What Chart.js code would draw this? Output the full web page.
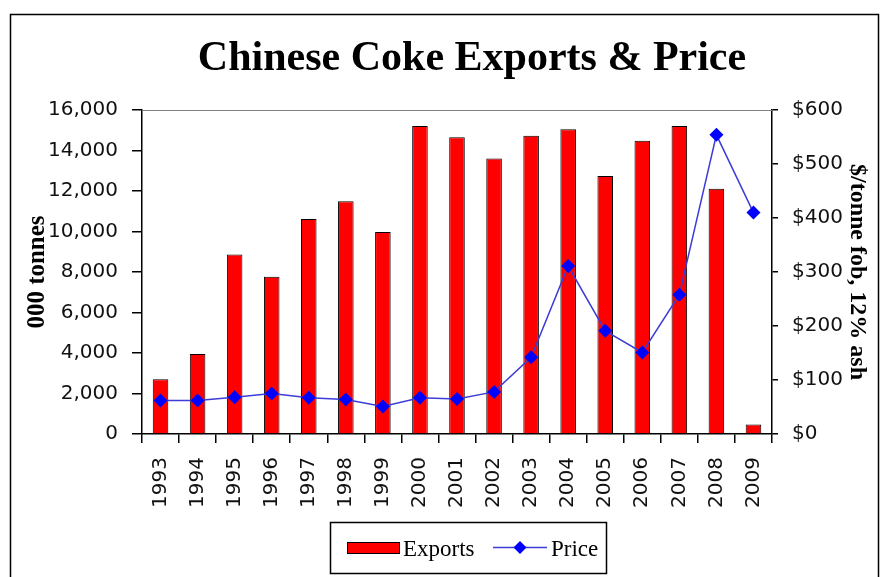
<!DOCTYPE html>
<html>
<head>
<meta charset="utf-8">
<script src="https://cdn.jsdelivr.net/npm/chart.js@4"></script>
<style>
  html, body { margin: 0; padding: 0; background: #fff; }
  #wrap { width: 882px; height: 577px; position: relative; }
</style>
</head>
<body>
<div id="wrap"><canvas id="myChart" width="882" height="577"></canvas></div>
<script>
// data
var years = ['1993', '1994', '1995', '1996', '1997', '1998', '1999', '2000', '2001',
    '2002', '2003', '2004', '2005', '2006', '2007', '2008', '2009'];
var exportsKt = [2700, 3950, 8870, 7770, 10620, 11490, 9975, 15210, 14650,
    13610, 14730, 15050, 12740, 14480, 15210, 12110, 470];
var priceUsd = [62, 62, 68, 75, 67, 64, 51, 67, 65,
    78, 142, 311, 191, 151, 258, 554, 410];

var titleText = 'Chinese Coke Exports & Price';
var tickFont = { family: 'DejaVu Sans', size: 20 };

// border, title, top line of plot and the boxed legend
var framePlugin = {
    id: 'frame',
    afterDraw: function (chart) {
        var ctx = chart.ctx;
        var area = chart.chartArea;
        ctx.save();
        ctx.strokeStyle = '#000';
        ctx.lineWidth = 1.5;
        ctx.strokeRect(10.5, 14.5, 868, 580);

        ctx.strokeStyle = '#808080';
        ctx.lineWidth = 1;
        ctx.beginPath();
        ctx.moveTo(area.left, area.top + 0.5);
        ctx.lineTo(area.right, area.top + 0.5);
        ctx.stroke();

        ctx.fillStyle = '#000';
        ctx.font = 'bold 42px "Liberation Serif"';
        ctx.textAlign = 'center';
        ctx.textBaseline = 'alphabetic';
        ctx.fillText(titleText, 472, 70);

        // legend
        var ds = chart.data.datasets;
        ctx.lineWidth = 1.5;
        ctx.strokeStyle = '#000';
        ctx.strokeRect(330.5, 522.5, 276, 51);

        ctx.fillStyle = ds[1].backgroundColor;
        ctx.fillRect(347, 542, 52, 11);
        ctx.lineWidth = 1;
        ctx.strokeRect(347.5, 542.5, 52, 11);

        ctx.strokeStyle = ds[0].borderColor;
        ctx.lineWidth = 1.5;
        ctx.beginPath();
        ctx.moveTo(493, 547.5);
        ctx.lineTo(547, 547.5);
        ctx.stroke();
        ctx.fillStyle = ds[0].pointBackgroundColor;
        ctx.beginPath();
        ctx.moveTo(520, 541);
        ctx.lineTo(526.5, 547.5);
        ctx.lineTo(520, 554);
        ctx.lineTo(513.5, 547.5);
        ctx.closePath();
        ctx.fill();

        ctx.fillStyle = '#000';
        ctx.font = '23px "Liberation Serif"';
        ctx.textAlign = 'left';
        ctx.fillText(ds[1].label, 403, 556);
        ctx.fillText(ds[0].label, 551, 556);
        ctx.restore();
    }
};

var ctx1 = document.getElementById('myChart').getContext('2d');
var myChart = new Chart(ctx1, {
    type: 'bar',
    data: {
        labels: years,
        datasets: [{
            type: 'line',
            label: 'Price',
            data: priceUsd,
            yAxisID: 'y1',
            borderColor: '#3c3cd8',
            borderWidth: 1.5,
            pointStyle: 'rectRot',
            pointRadius: 7,
            pointBackgroundColor: '#0000ff',
            pointBorderColor: '#0000ff',
            pointBorderWidth: 0,
            tension: 0,
            fill: false,
            order: 0
        }, {
            label: 'Exports',
            data: exportsKt,
            yAxisID: 'y',
            backgroundColor: '#ff0000',
            borderColor: '#000',
            borderWidth: 1,
            barPercentage: 0.42,
            categoryPercentage: 1,
            order: 1
        }]
    },
    options: {
        responsive: false,
        animation: false,
        devicePixelRatio: 1,
        layout: { padding: { top: 110, bottom: 63, left: 23, right: 10 } },
        plugins: {
            legend: { display: false },
            title: { display: false },
            tooltip: { enabled: false }
        },
        scales: {
            x: {
                grid: { display: true, drawOnChartArea: false, offset: true, tickLength: 9, color: '#000', lineWidth: 1.5 },
                border: { color: '#000', width: 1.5 },
                ticks: { color: '#111', font: tickFont, minRotation: 90, maxRotation: 90, padding: 14, autoSkip: false },
                afterFit: function (scale) { scale.height = 80; }
            },
            y: {
                position: 'left',
                min: 0,
                max: 16000,
                grid: { display: true, drawOnChartArea: false, tickLength: 10, color: '#000', lineWidth: 1.5 },
                border: { color: '#000', width: 1.5 },
                ticks: {
                    stepSize: 2000,
                    color: '#111',
                    font: tickFont,
                    padding: 14,
                    callback: function (v) { return v.toLocaleString('en-US'); }
                },
                title: {
                    display: true,
                    text: '000 tonnes',
                    color: '#000',
                    font: { family: 'Liberation Serif', size: 25, weight: 'bold' },
                    padding: 0
                },
                afterFit: function (scale) { scale.width = 119; }
            },
            y1: {
                position: 'right',
                min: 0,
                max: 600,
                grid: { display: true, drawOnChartArea: false, tickLength: 6, color: '#000', lineWidth: 1.5 },
                border: { color: '#000', width: 1.5 },
                ticks: {
                    stepSize: 100,
                    color: '#111',
                    font: tickFont,
                    padding: 14,
                    callback: function (v) { return '$' + v; }
                },
                title: {
                    display: true,
                    text: '$/tonne fob, 12% ash',
                    color: '#000',
                    font: { family: 'Liberation Serif', size: 24, weight: 'bold' },
                    padding: 0
                },
                afterFit: function (scale) { scale.width = 100; }
            }
        }
    },
    plugins: [framePlugin]
});
</script>
</body>
</html>
